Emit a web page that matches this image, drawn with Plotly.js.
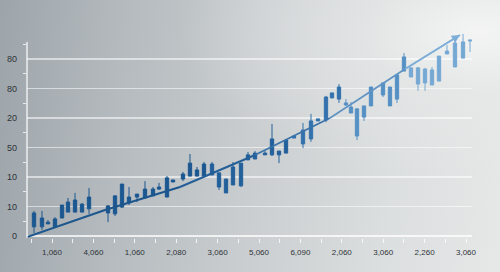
<!DOCTYPE html>
<html>
<head>
<meta charset="utf-8">
<script src="https://cdn.plot.ly/plotly-3.0.1.min.js"></script>
<style>
html,body{margin:0;padding:0;width:500px;height:272px;overflow:hidden;}
body{background:
 radial-gradient(ellipse 60% 55% at 96% 12%, rgba(244,245,244,0.95) 0%, rgba(232,234,234,0.6) 40%, rgba(230,232,232,0) 100%),
 linear-gradient(95deg, #9ea5aa 0%, #b5bbbf 25%, #c9cdcf 50%, #dcdfdf 78%, #e6e8e8 100%);}
#chart{width:500px;height:272px;}
</style>
</head>
<body>
<div id="chart"></div>
<script>
// x positions (axis units: 10 per labelled tick)
const xPos = [-4.35,-2.42,-0.97,0.72,2.42,3.86,5.56,7.25,8.94,13.53,15.22,16.91,18.60,20.53,22.46,24.40,25.85,27.78,29.23,
  31.64,33.33,35.02,36.71,38.65,40.34,42.03,43.72,45.65,47.34,49.03,51.45,53.14,54.83,56.52,58.45,60.63,62.56,64.25,
  66.18,67.63,69.32,71.01,72.22,73.67,75.36,77.05,79.95,81.64,83.33,85.02,86.71,88.41,90.10,91.79,93.48,95.41,97.34,99.28,100.97];
const openV = [3.1,3.1,4.1,3.1,6.1,8.1,8.1,8.1,9.2,7.8,7.5,9.8,11.2,13.2,12.9,13.6,15.9,13.2,18.3,
  19.3,20.3,20.3,20.3,20.7,21.4,19.3,17.3,17.0,25.8,26.1,27.5,27.5,28.8,28.1,33.2,31.2,32.9,39.0,
  39.3,46.8,46.4,45.1,43.7,43.1,44.1,44.1,47.8,50.5,46.4,55.9,57.0,57.0,56.6,51.2,52.5,61.7,57.3,60.3,66.1];
const closeV = [7.8,6.1,4.7,5.8,10.5,11.5,12.2,10.8,13.2,10.2,13.6,17.6,13.2,14.2,15.9,15.9,16.6,19.7,19.0,
  21.0,24.7,22.4,24.4,24.4,16.6,14.6,23.4,24.7,27.5,28.1,28.1,32.9,27.5,32.5,33.9,35.9,39.0,39.7,
  47.1,48.5,50.5,44.4,41.7,33.9,40.3,50.5,51.9,44.1,54.6,60.7,53.9,51.5,51.9,56.3,61.0,62.7,65.4,65.8,66.4];
const highV = [8.5,8.5,5.4,6.4,10.5,12.9,14.6,11.2,16.3,10.5,13.6,17.6,16.6,14.2,18.6,16.6,18.0,20.3,19.0,
  21.7,27.8,23.4,25.1,25.1,21.4,19.3,25.1,24.7,28.5,28.8,28.8,38.0,28.8,32.5,33.9,38.3,41.4,39.7,
  47.5,48.5,51.5,46.4,45.4,43.1,44.1,50.5,51.9,50.5,54.6,62.0,57.0,57.0,57.0,57.3,61.0,64.7,67.1,68.5,66.4];
const lowV = [1.0,2.0,4.1,3.1,6.1,8.1,8.1,8.1,7.5,4.7,6.8,9.5,10.5,11.5,12.9,13.6,15.6,13.2,18.3,
  18.6,20.3,20.3,20.3,20.7,15.6,14.6,17.3,16.6,25.8,26.1,27.5,27.1,24.7,28.1,33.2,29.8,31.9,39.0,
  38.6,46.8,45.1,44.1,41.7,32.5,39.0,44.1,47.1,44.1,45.1,55.9,53.9,49.2,49.2,51.2,52.5,61.7,57.3,60.3,62.4];

const trendX = [-6.04,12.80,30.92,49.03,67.15,85.27,98.55];
const trendY = [-0.34,8.81,16.61,27.46,40.00,56.61,68.14];

const xTickVals = [0,10,20,30,40,50,60,70,80,90,100];
const xTickText = ["1,060","4,060","1,060","2,080","3,060","5,060","6,090","2,060","3,060","2,260","3,060"];
const yTickVals = [0,10,20,30,40,50,60];
const yTickText = ["0","10","10","50","20","80","80"];

const candleColors = ["#1b5790","#22609b","#3372ad","#5590c4","#76a8d4"];
const bounds = [-100,37,58,71,86,1000];
const traces = [];
for (let s=0;s<candleColors.length;s++){
  const idx = xPos.map((v,i)=>i).filter(i=>xPos[i]>=bounds[s] && xPos[i]<bounds[s+1]);
  const c = candleColors[s];
  traces.push({
    type:'candlestick',
    x: idx.map(i=>xPos[i]), open: idx.map(i=>openV[i]), close: idx.map(i=>closeV[i]),
    high: idx.map(i=>highV[i]), low: idx.map(i=>lowV[i]),
    increasing:{line:{color:c,width:1},fillcolor:c},
    decreasing:{line:{color:c,width:1},fillcolor:c},
    whiskerwidth:0, showlegend:false, hoverinfo:'skip'
  });
}
const trendColors = ["#1c568c","#1c568c","#245f98","#3a73aa","#5f93c4","#7eaed8"];
for (let s=0;s<trendX.length-1;s++){
  traces.push({type:'scatter',mode:'lines',x:[trendX[s],trendX[s+1]],y:[trendY[s],trendY[s+1]],
    line:{color:trendColors[s],width:s<3?2:1.6},showlegend:false,hoverinfo:'skip'});
}

const grid = 'rgba(255,255,255,0.55)';
const layout = {
  width:500,height:272,
  margin:{l:27,r:28,t:30,b:34},
  paper_bgcolor:'rgba(0,0,0,0)', plot_bgcolor:'rgba(0,0,0,0)',
  boxgap:0.05,
  font:{family:'Liberation Sans, Arial, sans-serif',color:'#2e3338'},
  xaxis:{type:'linear',range:[-6.04,101.45],rangeslider:{visible:false},
    tickmode:'array',tickvals:xTickVals,ticktext:xTickText,tickfont:{size:8,color:'#2e3338'},
    showgrid:false,zeroline:false,showline:false,
    ticks:'outside',ticklen:4,tickcolor:'rgba(255,255,255,0.8)',tickwidth:1,ticklabelstandoff:2,
    minor:{tickmode:'linear',tick0:5,dtick:10,ticks:'outside',ticklen:4,tickcolor:'rgba(255,255,255,0.8)',showgrid:false},
    fixedrange:true},
  yaxis:{range:[-0.68,69.83],tickmode:'array',tickvals:yTickVals,ticktext:yTickText,
    tickfont:{size:9,color:'#2e3338'},showgrid:true,gridcolor:grid,gridwidth:1.5,
    zeroline:true,zerolinecolor:'rgba(255,255,255,0.75)',zerolinewidth:1.5,showline:false,
    ticks:'',ticklabelstandoff:9,
    minor:{tickmode:'linear',tick0:5,dtick:10,ticks:'outside',ticklen:3,tickcolor:'rgba(255,255,255,0.75)',showgrid:false},
    fixedrange:true},
  shapes:[{type:'line',xref:'paper',yref:'y',x0:0,x1:0,y0:-0.68,y1:65.76,line:{color:'rgba(255,255,255,0.8)',width:1.5}}],
  annotations:[{x:trendX[6],y:trendY[6],ax:trendX[5],ay:trendY[5],xref:'x',yref:'y',axref:'x',ayref:'y',
    text:'',showarrow:true,arrowhead:2,arrowsize:1.1,arrowwidth:1.5,arrowcolor:'#7eaed8'}]
};
Plotly.newPlot('chart',traces,layout,{staticPlot:true,displayModeBar:false});
</script>
</body>
</html>
